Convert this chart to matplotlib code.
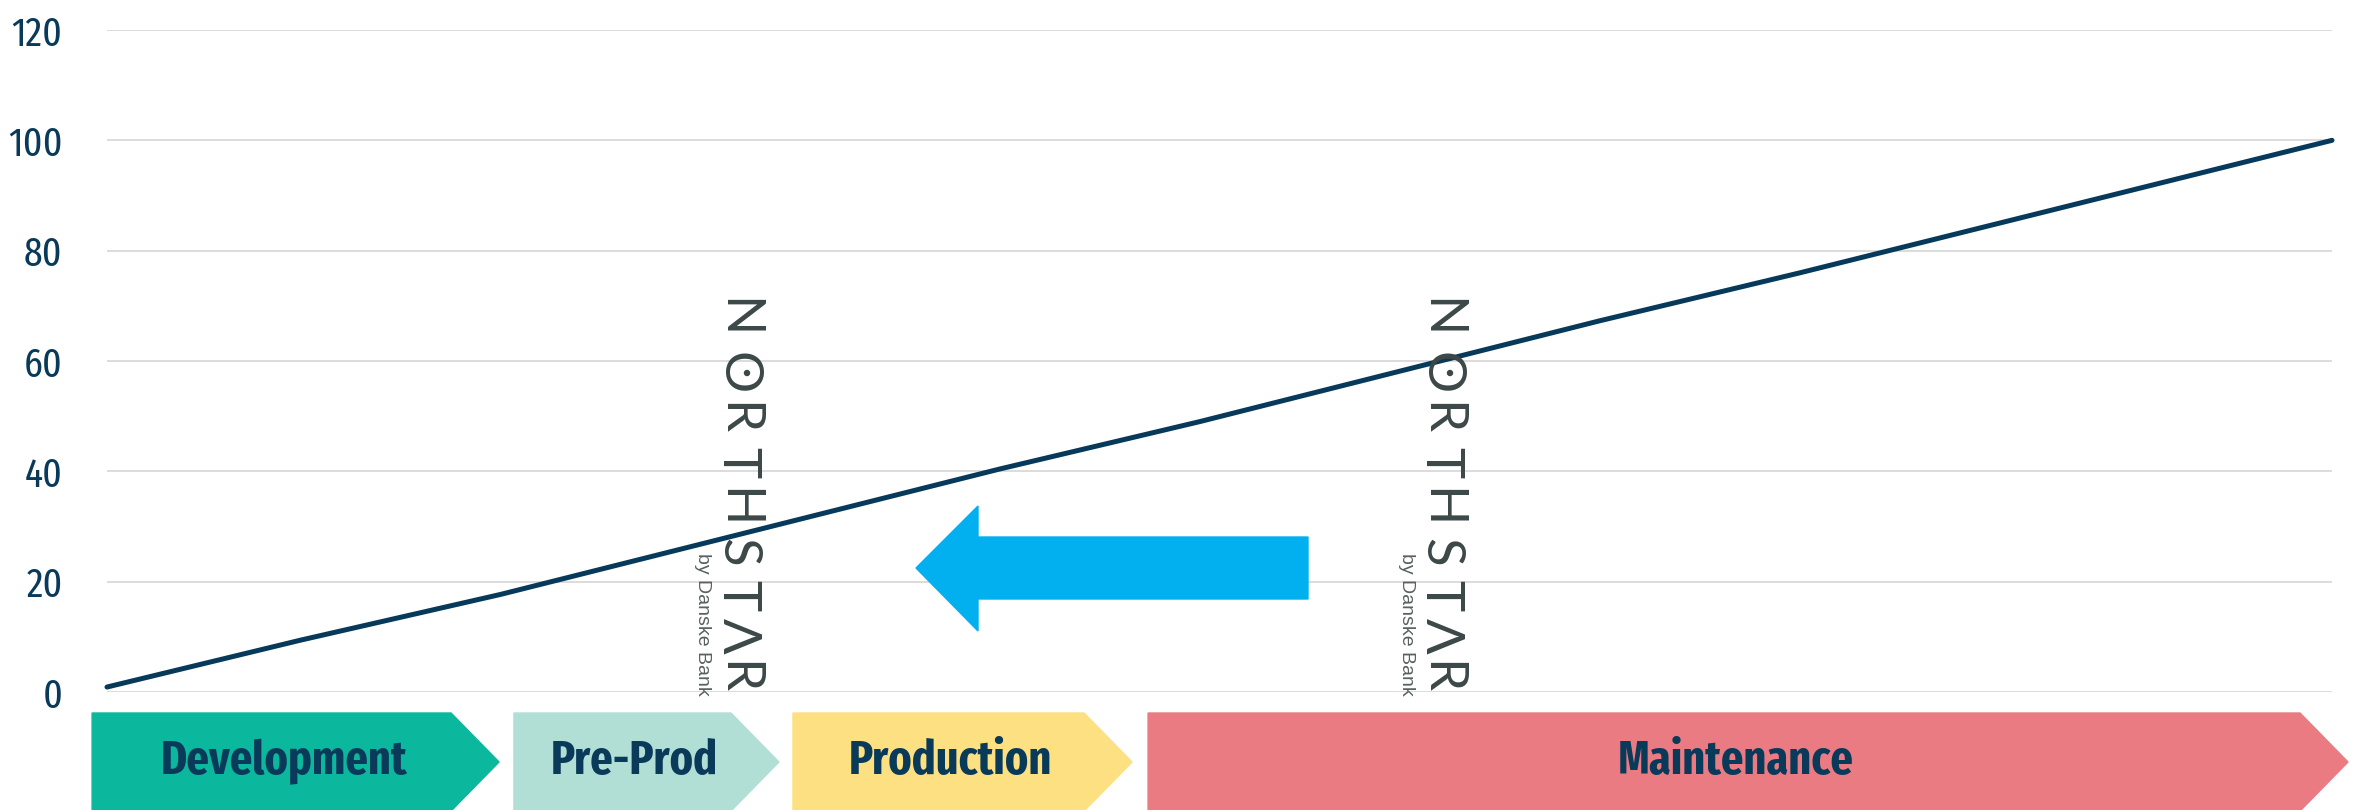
import matplotlib.pyplot as plt
from matplotlib import font_manager as fm
from matplotlib.patches import Polygon, Ellipse

# line data (x as share of the time span, y as the value)
x_vals = [0, 8.7, 17.7, 40.1, 49.1, 67.1, 76.1, 100]
y_vals = [0.9, 9.4, 17.7, 40.4, 49.0, 67.3, 76.0, 100]
y_ticks = [0, 20, 40, 60, 80, 100, 120]

# phases below the chart (start / tip in the same x units)
phase_names = ["Development", "Pre-Prod", "Production", "Maintenance"]
phase_start = [-0.67, 18.29, 30.83, 46.79]
phase_end = [17.62, 30.20, 46.07, 100.72]
phase_colors = ["#0bb89e", "#b2dfd5", "#fde081", "#ea7b82"]

W, H = 2359, 810
NAVY = "#0a3a5a"


def fx(px):
    return px / W


def fy(py):
    # py is measured from the top of the picture
    return 1 - py / H


def narrow_font(bold):
    # look for the narrowest condensed face, otherwise plain DejaVu Sans
    want = 700 if bold else 400
    best, best_score = None, None
    for f in fm.fontManager.ttflist:
        low = (f.fname + f.name).lower()
        cond = (f.stretch in ('condensed', 'semi-condensed', 'extra-condensed')
                or 'condensed' in low or 'narrow' in low)
        if not cond or f.style != 'normal' or 'italic' in low:
            continue
        w = f.weight if isinstance(f.weight, int) else fm.weight_dict.get(f.weight, 400)
        score = abs(w - want)
        if 'extracond' in low or 'extra cond' in low or 'extra-cond' in low:
            score -= 1000
        elif 'semicond' in low or 'semi cond' in low:
            score += 500
        if best_score is None or score < best_score:
            best, best_score = f.fname, score
    if best:
        return fm.FontProperties(fname=best)
    return fm.FontProperties(family='DejaVu Sans',
                             weight='bold' if bold else 'normal')


fig = plt.figure(figsize=(W / 100, H / 100), dpi=100)
renderer = fig.canvas.get_renderer()


def fit_size(text, target_w, cap_px, props, grow):
    t = fig.text(0, 0, text, fontproperties=props, fontsize=30)
    w = t.get_window_extent(renderer).width
    t.remove()
    size_w = 30 * target_w / w
    return min(size_w ** 0.6 * cap_px ** 0.4, size_w * grow)


label_font = narrow_font(True)
tick_font = narrow_font(False)
label_size = fit_size("Development", 228, 40, label_font, 1.08)
tick_size = fit_size("120", 45, 35, tick_font, 1.22)

ax = fig.add_axes([fx(107), fy(692), (2332 - 107) / W, (692 - 30) / H])
ax.set_xlim(0, 100)
ax.set_ylim(0, 120)

for t in y_ticks:
    ax.axhline(t, color="#d9d9d9", lw=1.3, zorder=1)
ax.plot(x_vals, y_vals, color="#073a5a", lw=3.6, solid_capstyle='round',
        clip_on=False, zorder=3)

ax.set_yticks(y_ticks)
ax.set_yticklabels([str(v) for v in y_ticks], fontproperties=tick_font,
                   fontsize=tick_size, color=NAVY)
ax.set_xticks([])
ax.tick_params(axis='y', length=0, pad=32)
for s in ax.spines.values():
    s.set_visible(False)

# watermarks
letters = ["N", "O", "R", "T", "H", "S", "T", "Λ", "R"]
letter_y = [318, 373, 419, 463, 508, 552, 596, 636, 678]
for cx, bx in [(737, 703), (1440, 1406)]:
    for ch, ly in zip(letters, letter_y):
        fig.text(fx(cx), fy(ly), ch, rotation=-90, ha='center',
                 va='center', fontsize=38, color="#3c4747",
                 family=['Lato', 'DejaVu Sans'], zorder=2)
    fig.patches.append(Ellipse((fx(cx + 10), fy(373)), 5 / W, 5 / H,
                               color="#3c4747", transform=fig.transFigure,
                               figure=fig))
    fig.text(fx(bx), fy(624), "by Danske Bank", rotation=-90, ha='center',
             va='center', fontsize=14, color="#5a6060",
             family=['Liberation Sans', 'DejaVu Sans'])

# blue arrow pointing left
arrow = [(916, 568), (978, 506), (978, 537), (1308, 537),
         (1308, 599), (978, 599), (978, 631)]
fig.patches.append(Polygon([(fx(a), fy(b)) for a, b in arrow], closed=True,
                           color="#03b0ef", transform=fig.transFigure,
                           figure=fig, zorder=4))

# phase chevrons
top, bottom, mid, depth = 713, 811, 762, 48
for name, s, e, c in zip(phase_names, phase_start, phase_end, phase_colors):
    left = ax.transData.transform((s, 0))[0]
    tip = ax.transData.transform((e, 0))[0]
    pts = [(left, top), (tip - depth, top), (tip, mid),
           (tip - depth, bottom), (left, bottom)]
    fig.patches.append(Polygon([(fx(a), fy(b)) for a, b in pts], closed=True,
                               color=c, transform=fig.transFigure, figure=fig))
    fig.text(fx((left + tip - 24) / 2), fy(mid), name, ha='center',
             va='center', fontproperties=label_font, fontsize=label_size,
             color=NAVY)

fig.savefig("out.png", dpi=100)
